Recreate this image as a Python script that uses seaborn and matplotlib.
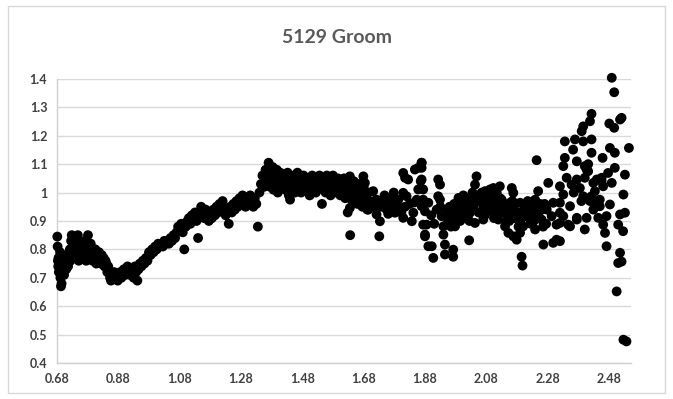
import pandas as pd
import seaborn as sns
import matplotlib.pyplot as plt
from matplotlib.patches import Rectangle

sns.set_theme(style="white")
plt.rcParams['font.family'] = ['Lato', 'DejaVu Sans']

title = '5129 Groom'
x_ticks = [0.68, 0.88, 1.08, 1.28, 1.48, 1.68, 1.88, 2.08, 2.28, 2.48]
y_ticks = [0.4, 0.5, 0.6, 0.7, 0.8, 0.9, 1.0, 1.1, 1.2, 1.3, 1.4]
y_labels = ['0.4', '0.5', '0.6', '0.7', '0.8', '0.9', '1', '1.1', '1.2', '1.3', '1.4']

# first stretch: dip near 0.88 then steady rise
rise_x = [0.681, 0.682, 0.683, 0.684, 0.685, 0.686, 0.688, 0.690, 0.691, 0.693, 0.695, 0.697,
          0.699, 0.701, 0.703, 0.705, 0.708, 0.710, 0.713, 0.716, 0.719, 0.722, 0.724, 0.726,
          0.728, 0.731, 0.733, 0.736, 0.739, 0.742, 0.745, 0.748, 0.751, 0.754, 0.757, 0.760,
          0.763, 0.766, 0.769, 0.772, 0.775, 0.778, 0.781, 0.784, 0.787, 0.790, 0.793, 0.796,
          0.799, 0.802, 0.805, 0.808, 0.811, 0.814, 0.817, 0.820, 0.823, 0.826, 0.829, 0.832,
          0.835, 0.838, 0.841, 0.844, 0.847, 0.850, 0.853, 0.856, 0.859, 0.862, 0.866, 0.870,
          0.874, 0.878, 0.882, 0.886, 0.890, 0.894, 0.898, 0.902, 0.906, 0.910, 0.914, 0.918,
          0.922, 0.926, 0.930, 0.934, 0.938, 0.942, 0.946, 0.950, 0.955, 0.960, 0.965, 0.970,
          0.975, 0.980, 0.985, 0.990, 0.995, 1.000, 1.005, 1.010, 1.015, 1.020, 1.025, 1.030,
          1.035, 1.040, 1.045, 1.050, 1.055, 1.060, 1.065, 1.070, 1.075, 1.080, 1.085, 1.090,
          1.095, 1.100, 1.105, 1.110, 1.115, 1.120, 1.125, 1.130, 1.135, 1.140, 1.145, 1.150,
          1.155, 1.160, 1.165, 1.170, 1.175, 1.180, 1.185, 1.190, 1.195, 1.200, 1.205, 1.210,
          1.215, 1.220, 1.225, 1.230, 1.235, 1.240, 1.245, 1.250, 1.255, 1.260, 1.265, 1.270,
          1.275, 1.280, 1.285, 1.290, 1.295, 1.300, 1.305, 1.310, 1.315, 1.320, 1.325, 1.330,
          1.335, 1.340]
rise_y = [0.845, 0.81, 0.76, 0.74, 0.77, 0.72, 0.75, 0.79, 0.70, 0.67, 0.68, 0.73,
          0.76, 0.78, 0.71, 0.74, 0.77, 0.73, 0.75, 0.74, 0.78, 0.80, 0.76, 0.83,
          0.85, 0.81, 0.78, 0.84, 0.79, 0.82, 0.77, 0.85, 0.76, 0.82, 0.78, 0.79,
          0.81, 0.77, 0.80, 0.83, 0.76, 0.80, 0.85, 0.79, 0.77, 0.82, 0.78, 0.76,
          0.79, 0.77, 0.80, 0.75, 0.78, 0.76, 0.79, 0.77, 0.75, 0.78, 0.76, 0.77,
          0.74, 0.76, 0.75, 0.72, 0.74, 0.72, 0.70, 0.69, 0.71, 0.70, 0.72, 0.70,
          0.71, 0.69, 0.70, 0.72, 0.70, 0.71, 0.73, 0.71, 0.72, 0.74, 0.72, 0.71,
          0.73, 0.72, 0.70, 0.74, 0.72, 0.69, 0.73, 0.75, 0.74, 0.76, 0.75, 0.77,
          0.76, 0.79, 0.78, 0.80, 0.79, 0.81, 0.80, 0.82, 0.81, 0.82, 0.81, 0.83,
          0.82, 0.83, 0.82, 0.84, 0.83, 0.85, 0.84, 0.86, 0.88, 0.87, 0.89, 0.86,
          0.80, 0.88, 0.90, 0.91, 0.89, 0.92, 0.91, 0.93, 0.90, 0.84, 0.92, 0.95,
          0.93, 0.91, 0.94, 0.92, 0.90, 0.93, 0.91, 0.94, 0.92, 0.95, 0.93, 0.96,
          0.95, 0.97, 0.94, 0.92, 0.93, 0.89, 0.95, 0.93, 0.96, 0.94, 0.97, 0.95,
          0.98, 0.96, 0.99, 0.97, 0.95, 0.98, 0.96, 0.99, 0.97, 0.95, 0.98, 0.96,
          0.88, 1.00]

# plateau around 1.03
plateau_x = [1.345, 1.350, 1.355, 1.360, 1.365, 1.370, 1.372, 1.375, 1.380, 1.383, 1.386, 1.390,
             1.393, 1.397, 1.400, 1.404, 1.408, 1.412, 1.416, 1.420, 1.424, 1.428, 1.432, 1.436,
             1.440, 1.444, 1.448, 1.452, 1.456, 1.460, 1.464, 1.468, 1.472, 1.476, 1.480, 1.484,
             1.488, 1.492, 1.496, 1.500, 1.504, 1.508, 1.512, 1.516, 1.520, 1.524, 1.528, 1.532,
             1.536, 1.540, 1.544, 1.548, 1.552, 1.556, 1.560, 1.564, 1.568, 1.572, 1.576, 1.580,
             1.584, 1.588, 1.592, 1.596, 1.600, 1.604, 1.608, 1.612, 1.616, 1.620, 1.624, 1.628,
             1.632, 1.636, 1.640, 1.644, 1.648, 1.652, 1.656, 1.660, 1.664, 1.668, 1.672, 1.676,
             1.680, 1.684, 1.688, 1.692, 1.696]
plateau_y = [1.03, 1.06, 1.02, 1.08, 1.04, 1.105, 1.07, 1.02, 1.05, 1.09, 1.01, 1.06,
             1.03, 1.08, 1.00, 1.05, 1.07, 1.02, 1.04, 1.06, 1.01, 1.03, 1.07, 0.99,
             0.975, 1.05, 1.02, 1.06, 1.00, 1.04, 1.07, 1.02, 1.05, 1.00, 1.03, 1.06,
             1.01, 1.04, 1.02, 1.05, 0.99, 1.03, 1.06, 1.01, 1.04, 1.00, 1.05, 1.02,
             1.06, 1.03, 0.96, 1.01, 1.04, 1.00, 1.06, 1.02, 1.05, 0.99, 1.03, 1.06,
             1.01, 1.04, 1.00, 1.05, 1.02, 0.99, 1.04, 1.01, 1.05, 0.98, 1.03, 0.93,
             1.00, 0.85, 1.02, 0.97, 1.04, 0.99, 1.01, 0.96, 1.03, 0.98, 1.00, 0.95,
             1.02, 0.97, 0.99, 0.94, 1.00]

# dip and bump near 1.8 - 1.9
mid_x = [1.635, 1.646, 1.679, 1.684, 1.657, 1.690, 1.711, 1.635, 1.657, 1.635, 1.695, 1.706,
         1.722, 1.722, 1.733, 1.731, 1.744, 1.755, 1.766, 1.771, 1.782, 1.793, 1.798, 1.809,
         1.815, 1.825, 1.809, 1.820, 1.809, 1.837, 1.842, 1.847, 1.858, 1.869, 1.866, 1.858,
         1.853, 1.869, 1.874, 1.880, 1.891, 1.750, 1.760, 1.776, 1.787, 1.803, 1.830, 1.738,
         1.715, 1.748, 1.778, 1.815, 1.845]
mid_y = [1.057, 1.034, 1.057, 1.034, 1.011, 0.999, 1.005, 0.981, 0.970, 0.946, 0.940, 0.969,
         0.975, 0.923, 0.899, 0.846, 0.969, 0.940, 0.981, 0.952, 0.929, 0.975, 0.946, 1.069,
         1.052, 1.046, 0.999, 0.987, 0.911, 0.899, 0.929, 1.081, 1.087, 1.105, 1.040, 1.011,
         0.975, 0.952, 0.887, 0.846, 0.811, 0.960, 0.925, 0.955, 0.965, 0.930, 0.960, 0.950,
         0.950, 0.990, 1.000, 0.950, 0.965]

# busy band 1.87 - 2.33
late_x = [1.869, 1.869, 1.869, 1.874, 1.874, 1.891, 1.880, 1.885, 1.880, 1.902, 1.907, 1.923,
          1.929, 1.923, 1.929, 1.918, 1.934, 1.940, 1.940, 1.945, 1.945, 1.972, 1.972, 1.956,
          1.967, 1.978, 1.989, 1.994, 2.005, 2.024, 2.016, 2.032, 2.043, 2.048, 2.037, 2.027,
          2.065, 2.076, 2.081, 2.092, 2.103, 2.114, 2.124, 2.130, 2.081, 2.060, 2.103, 2.119,
          2.070, 2.043, 2.163, 2.168, 2.157, 2.146, 2.141, 2.152, 2.168, 2.179, 2.190, 2.200,
          2.195, 2.198, 2.190, 2.190, 2.212, 2.228, 2.239, 2.222, 2.239, 2.249, 2.244, 2.266,
          2.260, 2.277, 2.282, 2.298, 2.309, 2.293, 2.298, 2.309, 2.320, 2.320]
late_y = [1.105, 1.087, 1.046, 1.011, 0.975, 0.964, 0.934, 0.887, 0.852, 0.811, 0.770, 1.046,
          1.028, 0.987, 0.975, 0.940, 0.917, 0.881, 0.852, 0.817, 0.782, 0.799, 0.774, 0.934,
          0.905, 0.881, 0.981, 0.952, 0.917, 0.832, 0.964, 0.987, 1.028, 1.057, 0.952, 0.929,
          0.975, 1.005, 0.975, 1.011, 1.016, 0.999, 1.022, 0.975, 0.940, 0.929, 0.929, 0.905,
          0.905, 0.893, 1.016, 0.999, 0.964, 0.929, 0.881, 0.858, 0.846, 0.834, 0.858, 0.881,
          0.774, 0.743, 0.964, 0.929, 0.929, 0.917, 0.870, 0.952, 0.975, 1.005, 1.114, 0.817,
          0.905, 0.940, 1.034, 0.823, 0.834, 0.917, 0.964, 0.887, 0.893, 0.929]

# filler for the solid core of the band
fill_x = [1.95, 1.96, 1.97, 1.98, 1.99, 2.00, 2.01, 2.02, 2.03, 2.04, 2.05, 2.06, 2.07, 2.08,
          2.09, 2.10, 2.11, 2.12, 2.13, 2.14, 2.15, 2.16, 2.17, 2.18, 2.19, 2.20, 2.21, 2.22,
          2.23, 2.24, 2.25, 2.26, 2.27, 1.955, 1.975, 1.995, 2.015, 2.035, 2.055, 2.075, 2.095,
          2.115, 2.135, 2.155, 2.175, 2.195, 2.215, 2.235, 2.255, 2.275, 1.90, 1.91, 1.93,
          1.965, 1.985, 2.005, 2.025, 2.045, 2.065, 2.085, 2.105, 2.125, 2.145, 2.165, 2.185,
          2.205, 2.225, 2.245, 2.265]
fill_y = [0.93, 0.95, 0.92, 0.94, 0.96, 0.94, 0.97, 0.95, 0.98, 0.96, 0.99, 0.97, 0.95, 0.98,
          0.96, 0.94, 0.97, 0.95, 0.93, 0.95, 0.92, 0.94, 0.91, 0.93, 0.90, 0.92, 0.94, 0.91,
          0.93, 0.95, 0.92, 0.94, 0.96, 0.90, 0.96, 0.90, 0.93, 1.00, 0.93, 0.92, 0.99,
          0.93, 0.96, 0.90, 0.96, 0.91, 0.97, 0.90, 0.96, 0.89, 0.92, 0.89, 0.95,
          0.88, 0.92, 0.99, 0.90, 0.97, 1.00, 0.94, 0.91, 0.98, 0.90, 0.97, 0.88,
          0.95, 0.89, 0.93, 0.88]

# scattered tail at the right edge
tail_x = [2.489, 2.497, 2.423, 2.418, 2.396, 2.391, 2.521, 2.516, 2.481, 2.497, 2.545, 2.336,
          2.369, 2.396, 2.423, 2.363, 2.423, 2.459, 2.483, 2.499, 2.336, 2.375, 2.331, 2.401,
          2.412, 2.499, 2.477, 2.532, 2.342, 2.375, 2.401, 2.429, 2.456, 2.489, 2.320, 2.358,
          2.385, 2.434, 2.461, 2.331, 2.365, 2.396, 2.423, 2.527, 2.320, 2.353, 2.390, 2.418,
          2.440, 2.450, 2.483, 2.429, 2.331, 2.375, 2.407, 2.445, 2.472, 2.516, 2.532, 2.347,
          2.401, 2.461, 2.510, 2.526, 2.467, 2.320, 2.472, 2.516, 2.510, 2.521, 2.505, 2.527,
          2.537, 2.407, 2.412, 2.440, 2.456, 2.450, 2.353, 2.375]
tail_y = [1.404, 1.353, 1.277, 1.251, 1.233, 1.216, 1.263, 1.257, 1.243, 1.228, 1.157, 1.180,
          1.187, 1.180, 1.187, 1.151, 1.140, 1.122, 1.157, 1.140, 1.122, 1.110, 1.093, 1.093,
          1.075, 1.087, 1.069, 1.063, 1.052, 1.046, 1.052, 1.034, 1.040, 1.034, 1.022, 1.028,
          1.016, 1.005, 1.022, 0.993, 1.000, 0.987, 0.987, 0.993, 0.964, 0.952, 0.970, 0.970,
          0.964, 0.952, 0.958, 0.940, 0.917, 0.911, 0.911, 0.911, 0.917, 0.923, 0.929, 0.887,
          0.870, 0.887, 0.887, 0.864, 0.858, 0.829, 0.811, 0.788, 0.752, 0.757, 0.652, 0.482,
          0.476, 1.081, 1.100, 1.046, 1.052, 0.975, 0.881, 0.905]

df = pd.DataFrame({
	'x': rise_x + plateau_x + mid_x + late_x + fill_x + tail_x,
	'y': rise_y + plateau_y + mid_y + late_y + fill_y + tail_y,
})

fig = plt.figure(figsize=(6.73, 3.99), dpi=100)
ax = fig.add_axes([0.0847, 0.0902, 0.853, 0.712])
sns.scatterplot(data=df, x='x', y='y', color='black', s=50, edgecolor='none',
				ax=ax, clip_on=False, zorder=3)

ax.set_xlim(0.68, 2.552)
ax.set_ylim(0.4, 1.4)
ax.set_xticks(x_ticks)
ax.set_xticklabels([f'{v:.2f}' for v in x_ticks])
ax.set_yticks(y_ticks)
ax.set_yticklabels(y_labels)
ax.tick_params(length=0, labelsize=9, labelcolor='#404040', pad=7)
for lab in ax.get_xticklabels() + ax.get_yticklabels():
	lab.set_fontweight('bold')
ax.set_xlabel('')
ax.set_ylabel('')
ax.yaxis.grid(True, color='#d9d9d9', lw=1)
ax.xaxis.grid(False)
for side in ['top', 'right']:
	ax.spines[side].set_visible(False)
for side in ['left', 'bottom']:
	ax.spines[side].set_color('#d0d0d0')
	ax.spines[side].set_linewidth(1)

fig.text(0.5, 0.905, title, ha='center', va='center', fontsize=14,
		 fontweight='bold', color='#595959')
fig.patches.append(Rectangle((0.012, 0.015), 0.976, 0.97, transform=fig.transFigure,
							 fill=False, ec='#d9d9d9', lw=1))

fig.savefig('out.png', dpi=100)
